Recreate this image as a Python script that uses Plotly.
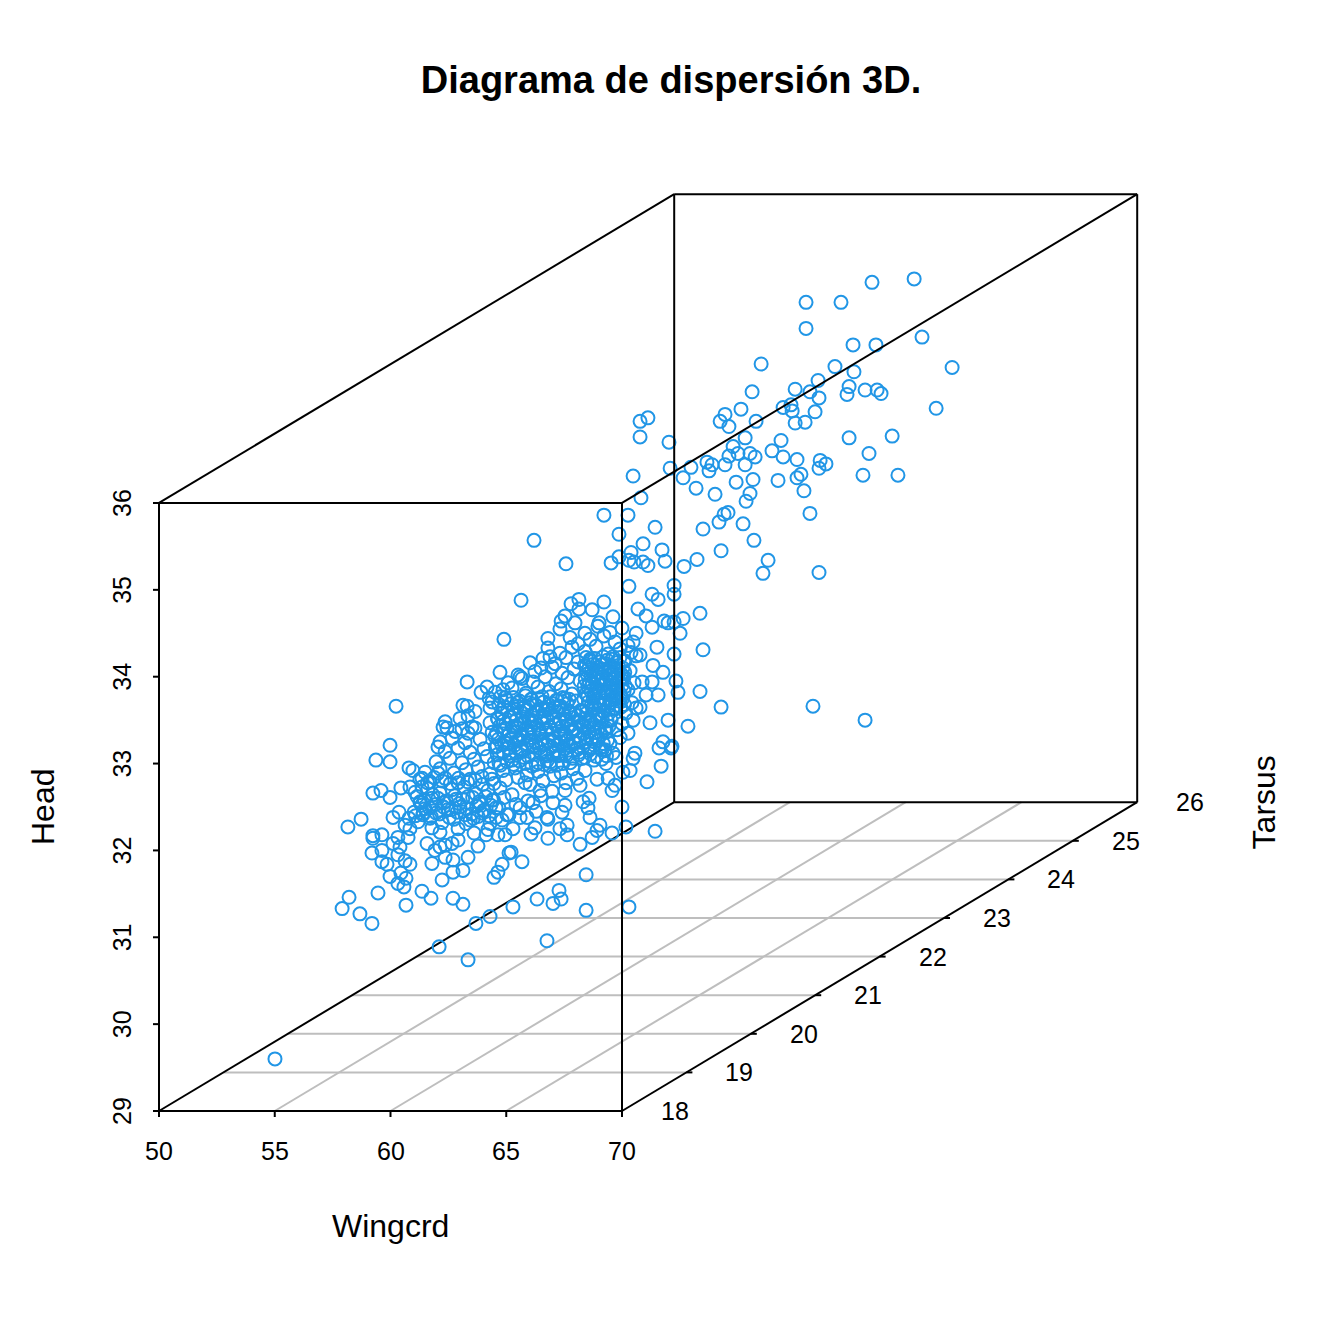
import plotly.graph_objects as go

# Axis ticks of the 3D box
wing_ticks = [50, 55, 60, 65, 70]
tarsus_ticks = [18, 19, 20, 21, 22, 23, 24, 25, 26]
head_ticks = [29, 30, 31, 32, 33, 34, 35, 36]

# Values, on the front plane of the box (Wingcrd units, Head units)
wing_upper = [82.62,80.80,79.46,77.95,77.95,82.96,79.98,80.97,76.01,79.20,80.02,84.26,78.47,79.81,77.48,80.50,81.02,81.19,79.72,75.62,78.12,78.51,83.57,76.96,77.30,77.35,75.14,78.34,74.45,74.24,75.79,77.48,77.91,74.62,71.12,70.78,70.78,72.03,75.32,76.87,79.81,81.67,74.80,76.48,80.67,75.01,75.53,76.96,77.56,78.56,78.81,72.98,72.08,73.67,73.89,74.62,75.75,74.45,75.32,73.76,78.51,77.73,80.41,81.92,72.64,70.48,76.74,77.56,74.93,75.66,73.20,74.02,75.53,77.86,75.36,70.82,78.12,74.58,74.41,74.19,75.23,75.70,74.28,76.31,76.09,78.51]
head_upper = [38.58,38.54,38.31,38.31,38.01,37.91,37.82,37.82,37.60,37.57,37.51,37.56,37.41,37.34,37.31,37.30,37.30,37.26,37.25,37.28,37.28,37.21,37.09,37.10,37.13,37.06,37.08,37.05,37.02,36.94,36.94,36.92,36.93,36.88,36.98,36.94,36.76,36.70,36.75,36.72,36.75,36.77,36.65,36.60,36.57,36.57,36.57,36.53,36.50,36.49,36.45,36.41,36.40,36.47,36.44,36.54,36.53,36.44,36.44,36.37,36.40,36.33,36.32,36.32,36.29,36.31,36.26,36.29,36.24,36.27,36.17,36.10,36.11,36.14,36.02,36.06,35.88,35.89,35.87,35.78,35.76,35.57,35.45,35.34,35.19,35.20]

wing_mid = [69.22,70.26,71.43,73.50,69.87,66.20,70.91,71.73,70.39,73.24,69.87,70.30,70.52,70.91,71.12,71.86,69.53,67.58,72.68,70.30,72.25,72.25,71.30,71.56,65.64,68.14,67.80,69.22,68.71,68.14,70.69,73.37,71.04,67.54,67.37,67.97,69.61,69.01,71.82,72.64,72.25,71.99,
            66.80,64.90,71.30,72.51,70.61,71.51,72.25,70.78,70.48,71.34,71.77,70.87,71.30,72.33,72.42,71.56,71.04,71.99,72.85,71.21,70.78,70.48,71.77,72.16,65.51,65.60,66.50,66.89,73.37,64.73,73.50,74.28,78.25,80.50]
head_mid = [35.86,35.86,35.72,35.70,35.64,35.57,35.53,35.46,35.43,35.35,35.38,35.34,35.32,35.32,35.28,35.33,35.31,35.30,35.27,35.04,35.05,34.95,34.95,34.89,34.88,34.89,34.84,34.86,34.77,34.78,34.78,34.73,34.70,34.70,34.64,34.62,34.69,34.62,34.64,34.67,34.63,34.62,
            34.44,34.43,34.57,34.50,34.50,34.34,34.26,34.25,34.40,34.13,34.05,33.94,33.94,33.95,33.82,33.79,33.79,33.50,33.43,33.47,33.65,33.50,33.25,33.20,34.02,34.00,34.10,34.23,33.83,34.05,34.31,33.65,33.66,33.50]

wing_right = [71.69,71.60,72.12,71.08,70.00,71.43,70.17,69.57,69.05,68.92,68.71,68.19,68.62,68.53,68.58,68.32,66.80,67.63,67.63,67.32,66.24,66.07,66.80,66.76,67.41,67.54,65.29,64.95,65.21,65.68,69.57,69.70,68.92,70.35,70.04,70.48,70.56,69.61,69.40,67.54,68.19,66.16,65.60,65.90,65.03,66.46,65.81]
head_right = [32.97,33.18,33.18,32.79,32.50,32.22,32.27,32.20,32.29,32.23,32.15,32.07,32.38,32.49,32.60,32.56,32.14,32.18,32.29,32.25,32.26,32.19,32.36,32.38,32.44,32.52,32.25,32.18,31.98,31.87,32.69,32.75,32.82,32.92,32.90,33.06,33.12,33.12,32.83,32.69,32.75,32.55,32.49,32.38,32.41,32.69,32.78]

wing_low = [57.91,58.21,58.68,59.20,59.46,60.67,61.36,61.75,62.70,63.13,64.30,63.69,62.10,63.35,65.29,62.23,62.70,63.13,64.47,64.64,64.82,60.58,60.32,60.67,60.45,59.98,60.84,60.63,59.85,59.63,59.20,59.63,59.24,59.63,60.11,60.32,60.41,60.32,60.76,61.58,61.79,63.35,63.78,64.13,64.64,65.12,62.92,62.66,62.36,62.14,61.92,62.36,62.70,66.33,67.02,67.28,67.37,68.45,68.45,70.30,66.76,55.01]
head_low = [31.33,31.46,31.27,31.16,31.51,31.37,31.53,31.45,31.45,31.38,31.24,31.16,30.89,30.74,31.35,31.66,31.75,31.77,31.69,31.75,31.84,31.58,31.62,31.68,31.74,31.70,31.84,31.88,31.84,31.87,31.97,32.00,32.14,32.18,32.08,32.15,32.04,31.95,32.15,32.08,31.85,31.92,32.05,32.18,32.18,31.97,32.12,32.08,32.06,32.04,32.00,31.92,31.89,31.44,31.39,31.54,31.44,31.72,31.31,31.35,30.96,29.60]

wing_left = [60.24,59.98,59.37,59.98,60.80,60.97,62.05,62.44,62.27,63.31,63.13,63.31,63.35,63.91,64.17,64.86,64.26,59.24,59.59,59.98,60.45,60.84,61.36,61.36,58.73,58.16,60.11,60.37,60.80,60.63,60.84,59.24,61.28,61.40,62.05,63.09,63.52,63.35,61.79,63.44,63.26]
head_left = [33.66,33.21,33.04,33.02,32.95,32.92,33.19,33.41,33.42,33.94,33.67,33.66,33.55,33.82,33.88,33.85,33.75,32.66,32.69,32.61,32.72,32.73,32.83,32.73,32.36,32.27,32.38,32.44,32.37,32.29,32.25,32.17,32.55,32.41,32.89,33.40,33.42,33.35,32.26,32.35,32.31]

wing_dense = [67.32,68.40,68.96,69.48,70.00,
67.76,68.10,68.62,69.22,69.70,70.26,
66.80,67.32,67.84,68.40,68.88,69.40,69.92,70.39,
66.03,66.59,67.11,67.58,68.10,68.62,69.14,69.61,70.13,70.61,
66.24,66.98,67.41,67.93,68.45,68.92,69.44,69.83,70.35,
65.08,65.68,66.16,66.68,67.15,67.67,68.19,68.66,69.18,69.57,70.09,70.52,
64.52,65.25,65.85,66.37,66.85,67.37,67.84,68.36,68.88,69.31,69.74,70.26,
64.39,64.95,65.51,66.07,66.55,67.02,67.54,68.01,68.53,69.05,69.48,69.96,70.43,
63.65,64.30,64.82,65.34,65.81,66.33,66.80,67.28,67.76,68.27,68.79,69.22,69.70,70.17,70.61,
62.36,63.00,64.30,64.64,65.16,65.64,66.11,66.63,67.11,67.58,68.10,68.58,69.05,69.53,70.00,
62.79,63.65,64.39,64.95,65.42,65.90,66.42,66.89,67.37,67.88,68.36,68.84,69.31,69.79,70.26,
62.14,62.66,63.22,63.87,64.52,65.08,65.55,66.07,66.55,67.02,67.54,68.01,68.49,68.96,69.48,69.92,
62.36,62.92,63.44,64.04,64.60,65.16,65.68,66.16,66.68,67.15,67.67,68.14,68.62,69.14,
61.97,62.57,63.09,63.61,64.17,64.69,65.25,65.77,66.29,66.76,67.24,67.76,68.27,68.79,69.31,69.74,
61.49,62.14,62.74,63.26,63.78,64.30,64.86,65.38,65.90,66.37,66.89,67.37,67.88,68.40,
61.71,62.36,62.92,63.44,63.95,64.47,64.99,65.51,66.03,66.59,67.06,67.58,68.06,
61.06,61.62,62.14,62.66,63.18,63.69,64.21,64.73,65.25,66.98,
61.28,61.79,62.31,62.83,63.35,63.87,64.39,64.90,65.42,65.94,66.50,67.02,
61.02,61.49,61.97,62.48,63.00,63.52,64.04,64.56,65.12,66.29,
61.19,61.71,62.23,62.74,63.78,64.30,64.82,65.60,
62.14,62.92,63.61,64.21]
head_dense = [34.55,34.50,34.58,34.51,34.56,
34.45,34.38,34.43,34.47,34.40,34.36,
34.33,34.27,34.34,34.29,34.35,34.26,34.32,34.28,
34.16,34.21,34.15,34.22,34.17,34.20,34.14,34.23,34.18,34.24,
34.06,34.11,34.04,34.09,34.12,34.05,34.10,34.03,34.07,
33.93,33.98,33.94,34.00,33.92,33.99,33.95,34.01,33.91,33.97,34.00,33.93,
33.82,33.87,33.81,33.88,33.83,33.86,33.80,33.89,33.84,33.82,33.87,33.85,
33.71,33.76,33.70,33.74,33.77,33.69,33.75,33.72,33.78,33.68,33.73,33.76,33.70,
33.60,33.64,33.58,33.63,33.66,33.59,33.62,33.65,33.57,33.61,33.67,33.60,33.63,33.58,33.64,
33.48,33.52,33.47,33.51,33.54,33.46,33.50,33.53,33.45,33.49,33.55,33.47,33.52,33.50,33.46,
33.37,33.41,33.36,33.40,33.43,33.35,33.39,33.42,33.34,33.38,33.44,33.36,33.41,33.39,33.35,
33.25,33.29,33.24,33.28,33.31,33.23,33.27,33.30,33.22,33.26,33.32,33.24,33.29,33.27,33.23,33.30,
33.14,33.18,33.13,33.17,33.20,33.12,33.16,33.19,33.11,33.15,33.21,33.13,33.18,33.16,
33.02,33.06,33.01,33.05,33.08,33.00,33.04,33.07,32.99,33.03,33.09,33.01,33.06,33.04,33.00,33.07,
32.90,32.94,32.89,32.93,32.96,32.88,32.92,32.95,32.87,32.91,32.97,32.89,32.94,32.92,
32.79,32.83,32.78,32.82,32.85,32.77,32.81,32.84,32.76,32.80,32.86,32.78,32.83,
32.67,32.71,32.66,32.70,32.73,32.65,32.69,32.72,32.64,32.68,
32.56,32.60,32.55,32.59,32.62,32.54,32.58,32.61,32.53,32.57,32.63,32.55,
32.44,32.48,32.43,32.47,32.50,32.42,32.46,32.49,32.41,32.45,
32.33,32.37,32.32,32.36,32.39,32.31,32.35,32.38,
32.21,32.25,32.20,32.24]

# Solid-looking core of the cloud, upper right part
wing_core_a = [68.45,68.63,68.82,69.03,69.18,69.36,69.57,69.74,69.91,70.08,
68.38,68.57,68.74,68.97,69.12,69.29,69.50,69.66,69.85,70.04,
68.49,68.68,68.86,69.01,69.23,69.41,69.59,69.78,69.97,70.12,
68.41,68.60,68.79,68.94,69.15,69.33,69.52,69.69,69.88,70.06,
68.52,68.71,68.90,69.07,69.26,69.44,69.62,69.81,70.00,70.15,
68.44,68.66,68.83,69.02,69.19,69.38,69.55,69.75,69.93,70.09,
68.35,68.55,68.76,68.95,69.11,69.30,69.47,69.68,69.86,70.03,
68.48,68.69,68.87,69.05,69.24,69.42,69.60,69.77,69.95,70.11]
head_core_a = [34.22,34.18,34.21,34.17,34.23,34.19,34.20,34.16,34.22,34.18,
34.13,34.10,34.14,34.11,34.09,34.15,34.12,34.08,34.13,34.10,
34.03,34.06,34.02,34.05,34.07,34.01,34.04,34.06,34.03,34.05,
33.97,33.94,33.98,33.95,33.99,33.96,33.93,33.97,33.95,33.98,
33.89,33.91,33.87,33.90,33.92,33.88,33.91,33.86,33.90,33.89,
33.80,33.83,33.79,33.82,33.84,33.81,33.78,33.82,33.80,33.83,
33.74,33.71,33.75,33.72,33.76,33.73,33.70,33.74,33.72,33.75,
33.65,33.68,33.64,33.67,33.69,33.66,33.63,33.67,33.65,33.68]

# Solid-looking core of the cloud, lower left part
wing_core_b = [64.75,65.02,65.31,65.57,65.83,66.10,66.38,66.62,66.90,67.17,67.44,67.72,
64.68,64.93,65.22,65.48,65.76,66.02,66.29,66.56,66.83,67.08,67.36,67.63,
64.79,65.06,65.35,65.60,65.88,66.14,66.41,66.69,66.95,67.21,67.49,67.76,
64.62,64.88,65.17,65.44,65.70,65.97,66.24,66.51,66.78,67.04,67.31,67.58,
64.71,64.98,65.27,65.53,65.79,66.06,66.34,66.59,66.87,67.13,67.41,67.68,
64.58,64.84,65.13,65.39,65.66,65.92,66.19,66.47,66.73,67.00,67.27,67.54,
64.66,64.91,65.20,65.46,65.73,66.00,66.27,66.54,66.81,67.06,67.34,67.61,
64.53,64.80,65.09,65.36,65.62,65.88,66.16,66.43,66.69,66.96,67.23,67.50,
64.61,64.87,65.15,65.42,65.68,65.95,66.22,66.49,66.76,67.02,67.29,67.56,
64.48,64.75,65.04,65.31,65.57,65.84,66.11,66.38,66.64,66.91,67.18,67.45]
head_core_b = [33.77,33.73,33.76,33.72,33.78,33.74,33.75,33.71,33.77,33.73,33.76,33.74,
33.68,33.65,33.69,33.66,33.64,33.70,33.67,33.63,33.68,33.65,33.66,33.69,
33.58,33.61,33.57,33.60,33.62,33.56,33.59,33.61,33.58,33.60,33.57,33.59,
33.52,33.49,33.53,33.50,33.54,33.51,33.48,33.52,33.50,33.53,33.49,33.51,
33.43,33.46,33.42,33.45,33.47,33.41,33.44,33.46,33.42,33.45,33.43,33.44,
33.35,33.38,33.34,33.37,33.33,33.39,33.36,33.34,33.38,33.35,33.37,33.33,
33.28,33.25,33.29,33.26,33.30,33.27,33.24,33.28,33.26,33.29,33.25,33.27,
33.19,33.22,33.18,33.21,33.17,33.23,33.20,33.18,33.22,33.19,33.21,33.17,
33.10,33.13,33.09,33.12,33.14,33.08,33.11,33.13,33.09,33.12,33.10,33.11,
33.01,32.98,33.02,32.99,33.03,33.00,32.97,33.01,32.99,33.02,32.98,33.00]

# Between the two cores
wing_core_c = [67.70,67.95,68.22,68.47,68.73,68.98,69.22,69.41,
67.62,67.88,68.13,68.41,68.66,68.91,69.15,69.36,
67.75,68.00,68.28,68.53,68.78,69.03,69.27,69.44,
67.58,67.83,68.09,68.36,68.61,68.86,69.10,69.31,
67.67,67.92,68.18,68.44,68.69,68.95,69.19,69.38,
67.53,67.79,68.05,68.31,68.57,68.81,69.06,69.26,
67.61,67.86,68.12,68.39,68.64,68.89,69.13,69.33]
head_core_c = [33.60,33.57,33.61,33.58,33.62,33.56,33.59,33.57,
33.50,33.53,33.49,33.52,33.48,33.54,33.51,33.49,
33.43,33.40,33.44,33.41,33.45,33.42,33.39,33.43,
33.33,33.36,33.32,33.35,33.37,33.31,33.34,33.36,
33.27,33.24,33.28,33.25,33.29,33.26,33.23,33.27,
33.17,33.20,33.16,33.19,33.15,33.21,33.18,33.16,
33.09,33.06,33.10,33.07,33.11,33.08,33.05,33.09]

# Lower left lobe of the cloud
wing_lobe = [61.15,61.46,61.83,62.05,62.41,62.78,63.12,63.55,63.83,64.11,64.45,
61.34,61.68,61.95,62.29,62.63,62.97,63.29,63.72,64.02,64.33,64.68,
61.08,61.41,61.76,62.12,62.54,62.88,63.22,63.58,63.94,64.25,64.57,
61.27,61.60,61.89,62.23,62.59,62.94,63.33,63.66,63.98,64.38]
head_lobe = [32.62,32.58,32.64,32.60,32.57,32.63,32.59,32.61,32.56,32.62,32.58,
32.52,32.49,32.53,32.50,32.47,32.54,32.48,32.51,32.46,32.52,32.49,
32.40,32.43,32.39,32.42,32.38,32.44,32.41,32.37,32.43,32.40,32.38,
32.82,32.78,32.84,32.80,32.77,32.83,32.79,32.81,32.76,32.82]

wing_plane = wing_upper + wing_mid + wing_right + wing_low + wing_left + wing_dense + wing_core_a + wing_core_b + wing_core_c + wing_lobe
head_plane = head_upper + head_mid + head_right + head_low + head_left + head_dense + head_core_a + head_core_b + head_core_c + head_lobe

PX_X, PX_Y = 23.15, 86.86     # pixels per Wingcrd unit, per Head unit
SHIFT_X, SHIFT_Y = 64.4 / PX_X, 38.6 / PX_Y   # oblique shift per Tarsus unit

def proj(w, t, h):
    """Oblique projection used by the 3D box: returns plane (x, y)."""
    return w + (t - 18) * SHIFT_X, h + (t - 18) * SHIFT_Y

def segs(pairs):
    xs, ys = [], []
    for a, b in pairs:
        pa, pb = proj(*a), proj(*b)
        xs += [pa[0], pb[0], None]
        ys += [pa[1], pb[1], None]
    return xs, ys

W0, W1, T0, T1, H0, H1 = 50, 70, 18, 26, 29, 36

grid = [((w, T0, H0), (w, T1, H0)) for w in wing_ticks[1:-1]] + \
       [((W0, t, H0), (W1, t, H0)) for t in tarsus_ticks[1:-1]]
floor = [((W0, T0, H0), (W0, T1, H0))]
box = [((W0, T0, H0), (W1, T0, H0)), ((W1, T0, H0), (W1, T0, H1)), ((W1, T0, H1), (W0, T0, H1)),
       ((W0, T0, H1), (W0, T0, H0)), ((W0, T0, H1), (W0, T1, H1)), ((W1, T0, H1), (W1, T1, H1)),
       ((W0, T1, H0), (W0, T1, H1)), ((W0, T1, H1), (W1, T1, H1)), ((W1, T1, H1), (W1, T1, H0)),
       ((W1, T1, H0), (W0, T1, H0)), ((W1, T0, H0), (W1, T1, H0))]
tw = 6 / PX_X
th = 6 / PX_Y
ticks = [((w, T0, H0), (w, T0, H0 - th)) for w in wing_ticks] + \
        [((W0, T0, h), (W0 - tw, T0, h)) for h in head_ticks] + \
        [((W1, t, H0), (W1 + tw, t, H0)) for t in tarsus_ticks[1:-1]]

fig = go.Figure()
for pairs, col in [(grid, "#BEBEBE"), (floor, "black")]:
    x, y = segs(pairs)
    fig.add_trace(go.Scatter(x=x, y=y, mode="lines", line=dict(color=col, width=2), hoverinfo="skip"))
fig.add_trace(go.Scatter(x=wing_plane, y=head_plane, mode="markers",
                         marker=dict(symbol="circle-open", size=13, color="#2196E6",
                                     line=dict(width=2, color="#2196E6"))))
x, y = segs(box + ticks)
fig.add_trace(go.Scatter(x=x, y=y, mode="lines", line=dict(color="black", width=2), hoverinfo="skip"))

FONT = "Liberation Sans"
ann = []
def label(x, y, text, size=25, angle=0):
    ann.append(dict(x=x, y=y, text=text, showarrow=False, xanchor="center", yanchor="middle",
                    textangle=angle, font=dict(family=FONT, size=size, color="black")))

for w in wing_ticks:
    px, py = proj(w, T0, H0)
    label(px, py - 40 / PX_Y, str(w))
for h in head_ticks:
    px, py = proj(W0, T0, h)
    label(px - 37 / PX_X, py, str(h), angle=-90)
for t in tarsus_ticks:
    px, py = proj(W1, t, H0)
    label(px + 53 / PX_X, py, str(t))
label(60, H0 - 115 / PX_Y, "Wingcrd", size=32)
label(W0 - 116 / PX_X, 32.5, "Head", size=32, angle=-90)
px, py = proj(W1, T1, H0)
label(px + 127 / PX_X, py, "Tarsus", size=32, angle=-90)

x_left = 50 - 159 / PX_X
y_top = 29 + 1111 / PX_Y
fig.update_layout(
    width=1344, height=1344, autosize=False,
    margin=dict(l=0, r=0, t=0, b=0),
    paper_bgcolor="white", plot_bgcolor="white",
    showlegend=False,
    title=dict(text="<b>Diagrama de dispersión 3D.</b>", x=671 / 1344, y=1 - 80 / 1344,
               xanchor="center", yanchor="middle", font=dict(family=FONT, size=38, color="black")),
    xaxis=dict(visible=False, range=[x_left, x_left + 1344 / PX_X], fixedrange=True),
    yaxis=dict(visible=False, range=[y_top - 1344 / PX_Y, y_top], fixedrange=True),
    annotations=ann,
)
fig.write_html("out.html", post_script="document.body.style.margin='0';",
               config={"displayModeBar": False})
